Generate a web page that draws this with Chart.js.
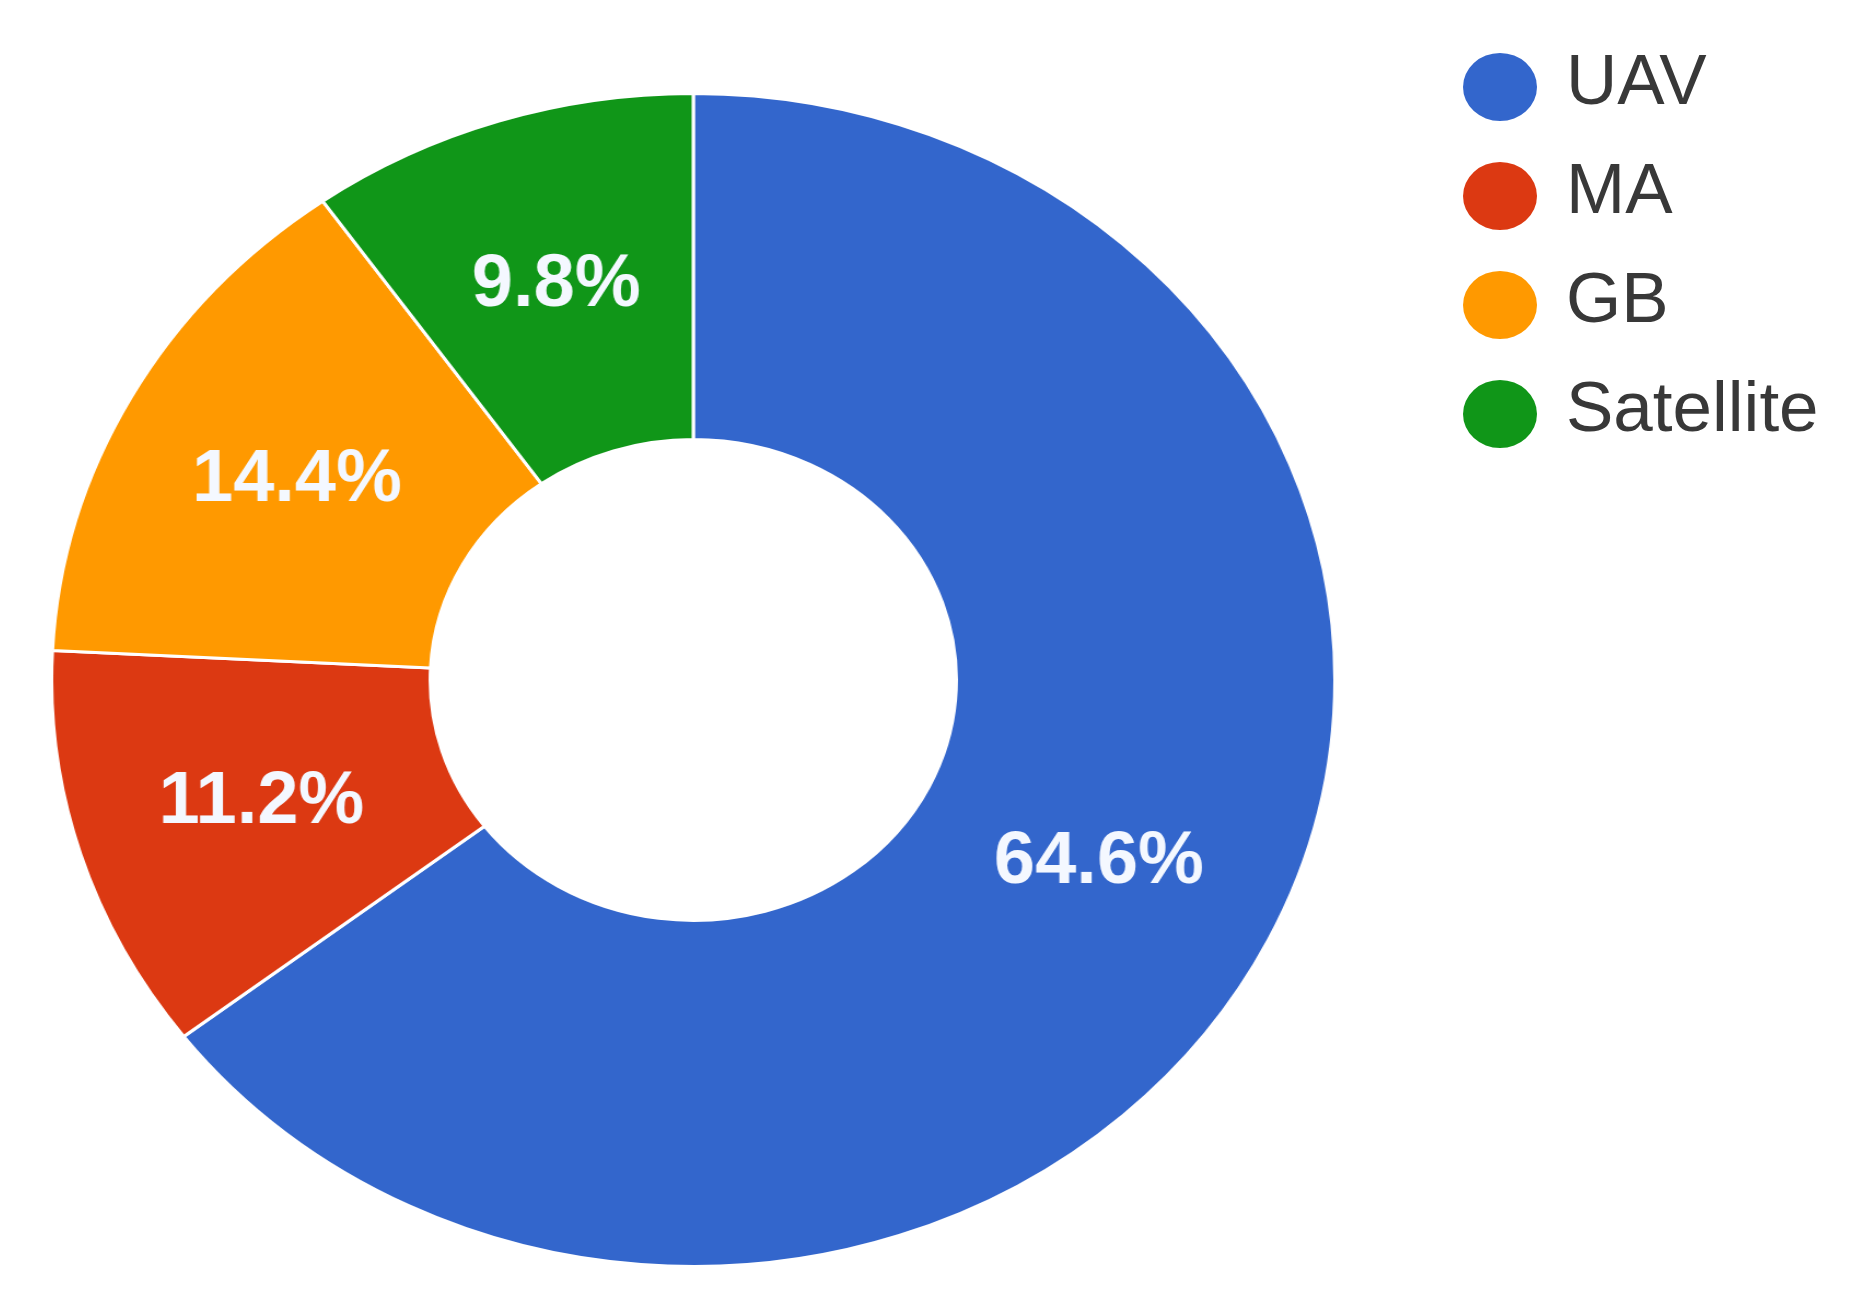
<!DOCTYPE html>
<html>
<head>
<meta charset="utf-8">
<title>Data sources</title>
<script src="https://cdn.jsdelivr.net/npm/chart.js@4.4.1/dist/chart.umd.min.js"></script>
<style>
  html, body { margin: 0; padding: 0; background: #fff; }
  body {
    width: 1857px;
    height: 1304px;
    position: relative;
    overflow: hidden;
    font-family: Arial, "Liberation Sans", sans-serif;
  }
  /* the source picture is a little wider than tall, so stretch the doughnut */
  #chart-wrap {
    position: absolute;
    left: 50px;
    top: 92px;
    width: 1176px;
    height: 1176px;
    transform: scaleX(1.094);
    transform-origin: 0 0;
  }
  #legend {
    position: absolute;
    left: 1463px;
    top: 32px;
    margin: 0;
    padding: 0;
    list-style: none;
  }
  #legend li {
    display: flex;
    align-items: center;
    height: 109px;
  }
  #legend .dot {
    width: 74px;
    height: 68px;
    border-radius: 50%;
    margin-right: 29px;
  }
  #legend .txt {
    position: relative;
    top: -7px;
    font-size: 71px;
    line-height: 1;
    color: #383838;
  }
</style>
</head>
<body>
<div id="chart-wrap"><canvas id="chart-sources"></canvas></div>
<ul id="legend"></ul>

<script>
const sources = ["UAV", "MA", "GB", "Satellite"];
const shares = [64.6, 11.2, 14.4, 9.8];
const sliceColors = ["#3366cc", "#dc3912", "#ff9900", "#109618"];

const STRETCH = 1.094;

// percentage text in the middle of each slice
const sliceLabels = {
  id: "sliceLabels",
  afterDatasetsDraw(chart) {
    const { ctx } = chart;
    const meta = chart.getDatasetMeta(0);
    ctx.save();
    ctx.fillStyle = "#f4f8ff";
    ctx.font = 'bold 74px Arial, "Liberation Sans", sans-serif';
    ctx.textAlign = "center";
    ctx.textBaseline = "middle";
    meta.data.forEach((arc, i) => {
      const { x, y } = arc.tooltipPosition();
      ctx.save();
      ctx.translate(x, y);
      ctx.scale(1 / STRETCH, 1); // undo the css stretch for the text
      ctx.fillText(shares[i].toFixed(1) + "%", 0, 0);
      ctx.restore();
    });
    ctx.restore();
  },
};

new Chart(document.getElementById("chart-sources"), {
  type: "doughnut",
  data: {
    labels: sources,
    datasets: [
      {
        data: shares,
        backgroundColor: sliceColors,
        borderColor: "#fff",
        borderWidth: 3,
      },
    ],
  },
  options: {
    responsive: true,
    maintainAspectRatio: false,
    animation: false,
    cutout: "41%",
    layout: { padding: 0 },
    plugins: {
      legend: { display: false },
      tooltip: { enabled: false },
    },
  },
  plugins: [sliceLabels],
});

// legend on the right
const legendEl = document.getElementById("legend");
sources.forEach((name, i) => {
  const li = document.createElement("li");
  const dot = document.createElement("span");
  dot.className = "dot";
  dot.style.background = sliceColors[i];
  const txt = document.createElement("span");
  txt.className = "txt";
  txt.textContent = name;
  li.appendChild(dot);
  li.appendChild(txt);
  legendEl.appendChild(li);
});
</script>
</body>
</html>
